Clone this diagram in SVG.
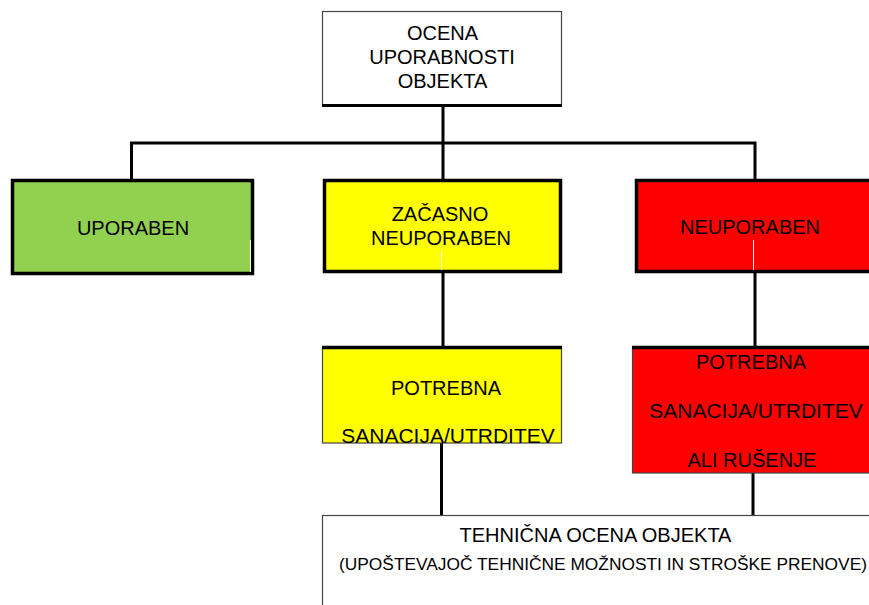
<svg xmlns="http://www.w3.org/2000/svg" width="869" height="605" viewBox="0 0 869 605">
<style>
text{font-family:"Liberation Sans",Arial,sans-serif;font-size:20px;fill:#000;text-anchor:middle}
.big{font-size:21px}
.thick{stroke:#000;stroke-width:3.5}
.thin{stroke:#444;stroke-width:1.2}
.wire{stroke:#000;stroke-width:3;fill:none}
.art{stroke:#fff;stroke-width:1}
</style>
<rect width="869" height="605" fill="#fff"/>
<g id="connectors">
<path class="wire" d="M443 105V143M131.5 179V143H755V179M443 143V179"/>
<path class="wire" d="M443 273V347M755 273V347"/>
<path class="wire" d="M441.5 443V515M753 473V515"/>
</g>
<g id="root">
<rect x="322.5" y="11.5" width="239" height="94" fill="#fff" class="thin"/>
<line x1="322" y1="105.5" x2="562" y2="105.5" stroke="#000" stroke-width="3"/>
<text x="442.5" y="40">OCENA</text>
<text x="442" y="64">UPORABNOSTI</text>
<text x="442.5" y="88">OBJEKTA</text>
</g>
<g id="uporaben">
<rect x="12.5" y="180.5" width="240" height="93" fill="#92D050" class="thick"/>
<line x1="250.5" y1="240" x2="250.5" y2="272" class="art"/>
<text x="133" y="235">UPORABEN</text>
</g>
<g id="zacasno">
<rect x="324.5" y="180.5" width="236" height="91" fill="#FFFF00" class="thick"/>
<line x1="441.5" y1="251" x2="441.5" y2="270" class="art"/>
<text x="440" y="221">ZAČASNO</text>
<text x="441" y="245">NEUPORABEN</text>
</g>
<g id="neuporaben">
<rect x="636.5" y="180.5" width="240" height="91" fill="#FF0000" class="thick"/>
<line x1="753.5" y1="240" x2="753.5" y2="270" class="art"/>
<text x="750" y="234">NEUPORABEN</text>
</g>
<g id="potrebna-sanacija">
<rect x="322.5" y="347.5" width="239" height="95.5" fill="#FFFF00" class="thin"/>
<line x1="322" y1="347.5" x2="562" y2="347.5" stroke="#000" stroke-width="3.5"/>
<text x="446" y="395">POTREBNA</text>
<text x="448" y="443" class="big">SANACIJA/UTRDITEV</text>
</g>
<g id="potrebna-rusenje">
<rect x="632.5" y="347.5" width="250" height="125.5" fill="#FF0000" class="thin"/>
<line x1="632" y1="347.5" x2="869" y2="347.5" stroke="#000" stroke-width="3.5"/>
<text x="751" y="369">POTREBNA</text>
<text x="756" y="418" class="big">SANACIJA/UTRDITEV</text>
<text x="752" y="467">ALI RUŠENJE</text>
</g>
<g id="tehnicna-ocena">
<rect x="322.5" y="515.5" width="560" height="100" fill="#fff" class="thin"/>
<text x="595.5" y="542">TEHNIČNA OCENA OBJEKTA</text>
<text x="603" y="570" style="font-size:16px" textLength="528" lengthAdjust="spacingAndGlyphs">(UPOŠTEVAJOČ TEHNIČNE MOŽNOSTI IN STROŠKE PRENOVE)</text>
</g>
</svg>
